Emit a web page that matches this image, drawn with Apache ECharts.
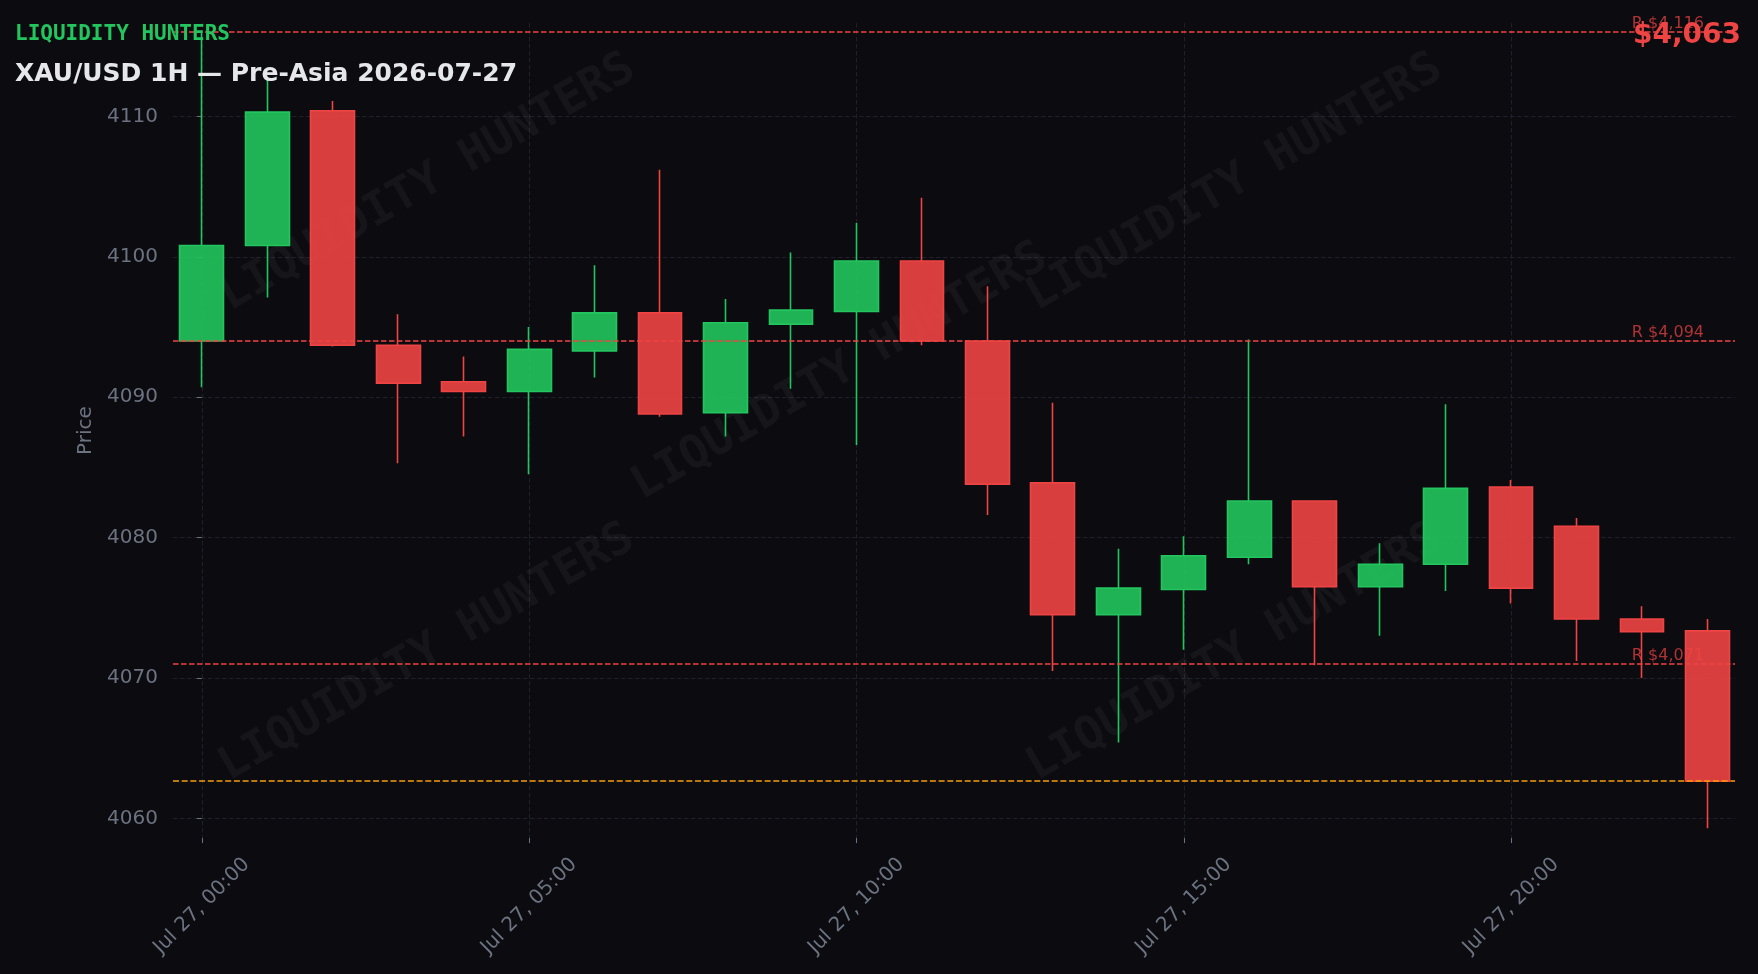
<!DOCTYPE html>
<html>
<head>
<meta charset="utf-8">
<script src="https://cdn.jsdelivr.net/npm/echarts@6/dist/echarts.min.js"></script>
<style>
html,body{margin:0;padding:0;background:#0b0b10;}
#chart{width:1758px;height:974px;}
</style>
</head>
<body>
<div id="chart"></div>
<script>
// ---- data ----
const times = ['Jul 27, 00:00','Jul 27, 01:00','Jul 27, 02:00','Jul 27, 03:00','Jul 27, 04:00','Jul 27, 05:00',
  'Jul 27, 06:00','Jul 27, 07:00','Jul 27, 08:00','Jul 27, 09:00','Jul 27, 10:00','Jul 27, 11:00',
  'Jul 27, 12:00','Jul 27, 13:00','Jul 27, 14:00','Jul 27, 15:00','Jul 27, 16:00','Jul 27, 17:00',
  'Jul 27, 18:00','Jul 27, 19:00','Jul 27, 20:00','Jul 27, 21:00','Jul 27, 22:00','Jul 27, 23:00'];
const opens  = [4094.0, 4100.8, 4110.4, 4093.7, 4091.1, 4090.4, 4093.3, 4096.0, 4088.9, 4095.2, 4096.1, 4099.7,
  4094.0, 4083.9, 4074.5, 4076.3, 4078.6, 4082.6, 4076.5, 4078.1, 4083.6, 4080.8, 4074.2, 4073.35];
const closes = [4100.8, 4110.3, 4093.7, 4091.0, 4090.4, 4093.4, 4096.0, 4088.8, 4095.3, 4096.2, 4099.7, 4094.0,
  4083.8, 4074.5, 4076.4, 4078.7, 4082.6, 4076.5, 4078.1, 4083.5, 4076.4, 4074.2, 4073.3, 4062.65];
const lows   = [4090.7, 4097.1, 4093.6, 4085.3, 4087.2, 4084.5, 4091.4, 4088.6, 4087.2, 4090.6, 4086.6, 4093.7,
  4081.6, 4070.5, 4065.4, 4072.0, 4078.1, 4070.9, 4073.0, 4076.2, 4075.3, 4071.2, 4070.0, 4059.3];
const highs  = [4116.0, 4112.6, 4111.1, 4095.9, 4092.9, 4095.0, 4099.4, 4106.2, 4097.0, 4100.3, 4102.4, 4104.2,
  4097.9, 4089.6, 4079.2, 4080.1, 4094.1, 4082.6, 4079.6, 4089.5, 4084.1, 4081.4, 4075.1, 4074.2];
const resistance = [4116, 4094, 4071];
const yTicks = [4060, 4070, 4080, 4090, 4100, 4110];
const xTickIdx = [0, 5, 10, 15, 20];
const brand = 'LIQUIDITY HUNTERS';
const titleText = 'XAU/USD 1H — Pre-Asia 2026-07-27';

// ---- build ----
const candles = times.map((t, i) => [i, opens[i], closes[i], lows[i], highs[i]]);
const lastClose = closes[closes.length - 1];
const fmt = v => v.toLocaleString('en-US', {maximumFractionDigits: 0});

const GRAY = '#6b7280';
const GRID = '#1f2029';
const RED = '#ef4444';
const GREEN = '#22c55e';

const wmPos = [[428,183],[1235,183],[840,372],[427,653],[1235,653]];
const watermarks = wmPos.map(p => ({
  type: 'text', x: p[0], y: p[1], rotation: Math.PI / 6, z: 1, silent: true,
  style: {text: brand, font: 'bold 46px "DejaVu Sans Mono"', fill: 'rgba(255,255,255,0.045)',
    textAlign: 'center', textVerticalAlign: 'middle'}
}));

const chart = echarts.init(document.getElementById('chart'), null, {renderer: 'canvas'});
chart.setOption({
  backgroundColor: '#0b0b10',
  animation: false,
  grid: {left: 173, right: 23, top: 23, bottom: 136, containLabel: false},
  xAxis: {
    type: 'value', min: -0.44, max: 23.42,
    axisLine: {show: false},
    axisTick: {show: true, length: 5, lineStyle: {color: GRAY, width: 1}, customValues: xTickIdx},
    axisLabel: {
      customValues: xTickIdx, rotate: 45, align: 'center', verticalAlign: 'middle', margin: 68,
      color: GRAY, fontSize: 20, fontFamily: 'DejaVu Sans',
      formatter: v => times[Math.round(v)]
    },
    splitLine: {show: true, lineStyle: {color: GRID, width: 1, type: [4.5, 2.5]}}
  },
  yAxis: {
    type: 'value', min: 4058.6, max: 4116.65,
    name: 'Price', nameLocation: 'middle', nameGap: 69,
    nameTextStyle: {color: GRAY, fontSize: 20, fontFamily: 'DejaVu Sans'},
    axisLine: {show: false},
    axisTick: {show: true, length: 5, lineStyle: {color: GRAY, width: 1}, customValues: yTicks},
    axisLabel: {customValues: yTicks, color: GRAY, fontSize: 20, fontFamily: 'DejaVu Sans', margin: 15,
      formatter: v => String(v)},
    splitLine: {show: true, lineStyle: {color: GRID, width: 1, type: [4.5, 2.5]}}
  },
  series: [{
    type: 'candlestick',
    data: candles,
    barWidth: '68%',
    z: 3,
    itemStyle: {
      color: 'rgba(34,197,94,0.9)', color0: 'rgba(239,68,68,0.9)',
      borderColor: GREEN, borderColor0: RED, borderWidth: 1.6
    },
    markLine: {
      silent: true, symbol: ['none', 'none'], animation: false,
      data: resistance.map(v => ({
        yAxis: v,
        lineStyle: {color: RED, width: 1.5, type: [5.5, 2.5]},
        label: {show: true, position: 'insideEndTop', formatter: 'R $' + fmt(v),
          color: 'rgba(239,68,68,0.72)', fontSize: 16, fontFamily: 'DejaVu Sans', distance: [31, 0]}
      })).concat([{
        yAxis: lastClose,
        lineStyle: {color: '#f59e0b', width: 1.5, type: [6, 2.7]},
        label: {show: false}
      }])
    }
  }],
  graphic: watermarks.concat([
    {type: 'text', x: 15, y: 34.5, z: 10, silent: true,
      style: {text: brand, font: 'bold 21px "DejaVu Sans Mono"', fill: GREEN, textAlign: 'left', textVerticalAlign: 'middle'}},
    {type: 'text', x: 15, y: 74.3, z: 10, silent: true,
      style: {text: titleText, font: 'bold 25px "DejaVu Sans"', fill: '#e5e7eb', textAlign: 'left', textVerticalAlign: 'middle'}},
    {type: 'text', x: 1741, y: 36, z: 10, silent: true,
      style: {text: '$' + fmt(lastClose), font: 'bold 28px "DejaVu Sans"', fill: RED, textAlign: 'right', textVerticalAlign: 'middle'}}
  ])
});
</script>
</body>
</html>
